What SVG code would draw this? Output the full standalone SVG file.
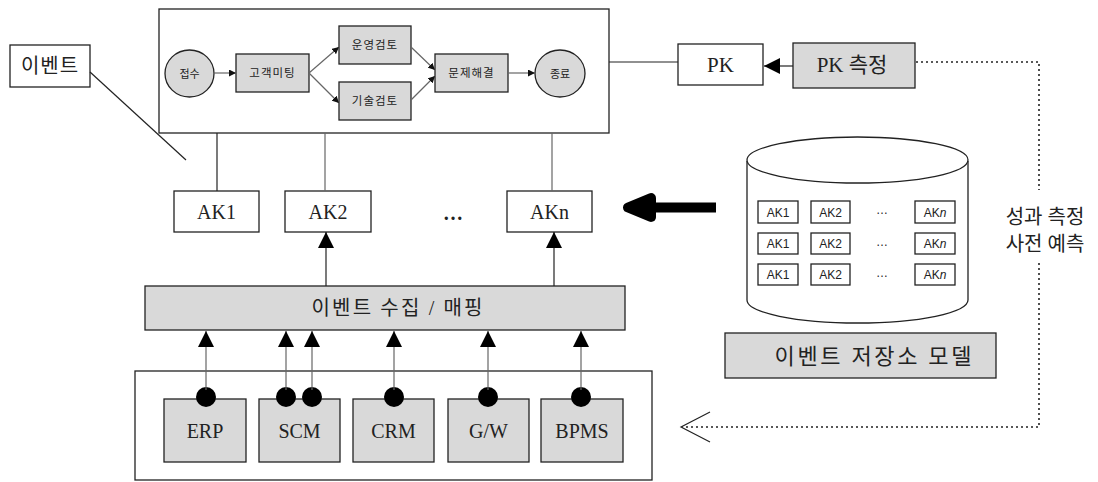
<svg xmlns="http://www.w3.org/2000/svg" width="1098" height="482" viewBox="0 0 1098 482">
<style>
.box{fill:#fff;stroke:#222;stroke-width:1.3}
.gbox{fill:#d9d9d9;stroke:#222;stroke-width:1.3}
.ln{fill:none;stroke:#222;stroke-width:1.2}
.gln{fill:none;stroke:#666;stroke-width:1.2}
.dot{fill:none;stroke:#222;stroke-width:1.6;stroke-dasharray:2 3}
.ko{font-family:"Liberation Serif","Noto Sans CJK KR",serif;fill:#222;text-anchor:middle;dominant-baseline:central}
.en{font-family:"Liberation Serif",serif;fill:#222;text-anchor:middle;dominant-baseline:central}
.sm{font-family:"Liberation Sans","Noto Sans CJK KR",sans-serif;fill:#222;text-anchor:middle;dominant-baseline:central}
</style>
<defs>
<marker id="ah" viewBox="0 0 10 10" refX="10" refY="5" markerWidth="7" markerHeight="7" markerUnits="userSpaceOnUse" orient="auto"><path d="M0,0 L10,5 L0,10 z" fill="#111"/></marker>
<marker id="big" viewBox="0 0 10 10" refX="10" refY="5" markerWidth="16" markerHeight="16" markerUnits="userSpaceOnUse" orient="auto"><path d="M0,0 L10,5 L0,10 z" fill="#000"/></marker>
</defs>

<g id="process">
<rect class="box" x="159" y="9" width="450" height="124"/>
<ellipse class="gbox" cx="189.5" cy="73.5" rx="24.5" ry="23.5"/>
<text class="sm" x="189.5" y="74" font-size="11">접수</text>
<rect class="gbox" x="236" y="54" width="73" height="38"/>
<text class="sm" x="272.5" y="73" font-size="11.5" letter-spacing="1">고객미팅</text>
<rect class="gbox" x="339" y="26" width="72" height="38"/>
<text class="sm" x="375" y="45" font-size="11.5" letter-spacing="1">운영검토</text>
<rect class="gbox" x="339" y="82" width="72" height="38"/>
<text class="sm" x="375" y="101" font-size="11.5" letter-spacing="1">기술검토</text>
<rect class="gbox" x="435" y="54" width="73" height="38"/>
<text class="sm" x="471.5" y="73" font-size="11.5" letter-spacing="1">문제해결</text>
<ellipse class="gbox" cx="560" cy="73.5" rx="25" ry="23.5"/>
<text class="sm" x="560" y="74" font-size="11">종료</text>
<g class="gln" stroke="#333">
<line x1="214" y1="73" x2="236" y2="73" marker-end="url(#ah)"/>
<line x1="309" y1="73" x2="339" y2="47" marker-end="url(#ah)"/>
<line x1="309" y1="73" x2="339" y2="103" marker-end="url(#ah)"/>
<line x1="411" y1="47" x2="435" y2="70" marker-end="url(#ah)"/>
<line x1="411" y1="100" x2="435" y2="76" marker-end="url(#ah)"/>
<line x1="508" y1="73" x2="535" y2="73" marker-end="url(#ah)"/>
</g>
</g>

<g id="event-label">
<rect class="box" x="10" y="45" width="80" height="42"/>
<text class="ko" x="50" y="66" font-size="20" letter-spacing="1">이벤트</text>
</g>

<g id="pk">
<rect class="box" x="678" y="44" width="85" height="41"/>
<text class="en" x="720.5" y="65" font-size="21">PK</text>
</g>
<g id="pk-measure">
<rect class="gbox" x="793" y="43" width="122" height="45"/>
<text class="ko" x="852" y="65" font-size="21">PK 측정</text>
</g>

<g id="ak1"><rect class="box" x="174" y="191" width="85" height="41"/><text class="en" x="216.5" y="212" font-size="20">AK1</text></g>
<g id="ak2"><rect class="box" x="285" y="191" width="86" height="41"/><text class="en" x="328" y="212" font-size="20">AK2</text></g>
<text class="en" x="453" y="213" font-size="20" font-weight="bold">…</text>
<g id="akn"><rect class="box" x="507" y="191" width="85" height="41"/><text class="en" x="549.5" y="212" font-size="20">AKn</text></g>

<g id="collect">
<rect class="gbox" x="145" y="286" width="480" height="44"/>
<text class="ko" x="397" y="308" font-size="20" textLength="171" lengthAdjust="spacing">이벤트 수집 / 매핑</text>
</g>

<g id="store">
<path class="box" d="M747,161 L747,300 A110.5,23 0 0 0 968,300 L968,161"/>
<ellipse class="box" cx="857.5" cy="160" rx="110.5" ry="23"/>
<g font-size="12">
<rect class="box" x="758" y="201" width="40" height="22"/><text class="sm" x="778" y="212.5">AK1</text>
<rect class="box" x="811" y="201" width="39" height="22"/><text class="sm" x="830.5" y="212.5">AK2</text>
<text class="sm" x="882" y="210">…</text>
<rect class="box" x="915" y="201" width="40" height="22"/><text class="sm" x="935" y="212.5">AK<tspan font-style="italic">n</tspan></text>
<rect class="box" x="758" y="233" width="40" height="21"/><text class="sm" x="778" y="244">AK1</text>
<rect class="box" x="811" y="233" width="39" height="21"/><text class="sm" x="830.5" y="244">AK2</text>
<text class="sm" x="882" y="242">…</text>
<rect class="box" x="915" y="233" width="40" height="21"/><text class="sm" x="935" y="244">AK<tspan font-style="italic">n</tspan></text>
<rect class="box" x="758" y="264" width="40" height="21"/><text class="sm" x="778" y="275">AK1</text>
<rect class="box" x="811" y="264" width="39" height="21"/><text class="sm" x="830.5" y="275">AK2</text>
<text class="sm" x="882" y="273">…</text>
<rect class="box" x="915" y="264" width="40" height="21"/><text class="sm" x="935" y="275">AK<tspan font-style="italic">n</tspan></text>
</g>
</g>
<g id="store-label">
<rect class="gbox" x="725" y="333" width="271" height="45"/>
<text class="ko" x="873" y="356" font-size="22" textLength="197" lengthAdjust="spacing">이벤트 저장소 모델</text>
</g>

<g id="systems">
<rect class="box" x="135" y="371" width="517" height="109"/>
<rect class="gbox" x="164" y="399" width="82" height="63"/><text class="en" x="205" y="431" font-size="20">ERP</text>
<rect class="gbox" x="259" y="399" width="81" height="63"/><text class="en" x="299.5" y="431" font-size="20">SCM</text>
<rect class="gbox" x="353" y="399" width="81" height="63"/><text class="en" x="393.5" y="431" font-size="20">CRM</text>
<rect class="gbox" x="448" y="399" width="81" height="63"/><text class="en" x="488.5" y="431" font-size="20">G/W</text>
<rect class="gbox" x="541" y="399" width="82" height="63"/><text class="en" x="582" y="431" font-size="20">BPMS</text>
</g>

<g id="connectors">
<line class="ln" x1="90" y1="72" x2="186" y2="160"/>
<line class="ln" x1="609" y1="62" x2="678" y2="62"/>
<line class="ln" x1="793" y1="66" x2="764" y2="66" marker-end="url(#big)"/>
<line class="ln" x1="217" y1="133" x2="217" y2="191"/>
<line class="gln" x1="325" y1="133" x2="325" y2="191"/>
<line class="gln" x1="552" y1="133" x2="552" y2="191"/>
<line class="ln" x1="326" y1="286" x2="326" y2="232" marker-end="url(#big)"/>
<line class="ln" x1="554" y1="286" x2="554" y2="232" marker-end="url(#big)"/>
<path d="M716,207.5 L652,207.5 M651,198 L628,207.5 L651,217 z" fill="#000" stroke="#000" stroke-width="10" stroke-linejoin="round"/>
<g fill="#000">
<circle cx="206" cy="397" r="10"/>
<circle cx="286" cy="397" r="10"/>
<circle cx="312" cy="397" r="10"/>
<circle cx="394" cy="397" r="10"/>
<circle cx="488" cy="397" r="10"/>
<circle cx="581" cy="397" r="10"/>
</g>
<g class="gln" stroke="#333">
<line x1="206" y1="390" x2="206" y2="331" marker-end="url(#big)"/>
<line x1="286" y1="390" x2="286" y2="331" marker-end="url(#big)"/>
<line x1="312" y1="390" x2="312" y2="331" marker-end="url(#big)"/>
<line x1="394" y1="390" x2="394" y2="331" marker-end="url(#big)"/>
<line x1="488" y1="390" x2="488" y2="331" marker-end="url(#big)"/>
<line x1="581" y1="390" x2="581" y2="331" marker-end="url(#big)"/>
</g>
<path class="dot" d="M916,62 L1039,62 L1039,190"/>
<path class="dot" d="M1039,263 L1039,427 L682,427"/>
<path class="ln" d="M710,412 L681,427 L710,442" stroke-width="1.5"/>
<text class="ko" x="1045" y="217" font-size="20">성과 측정</text>
<text class="ko" x="1045" y="244" font-size="20">사전 예측</text>
</g>
</svg>
